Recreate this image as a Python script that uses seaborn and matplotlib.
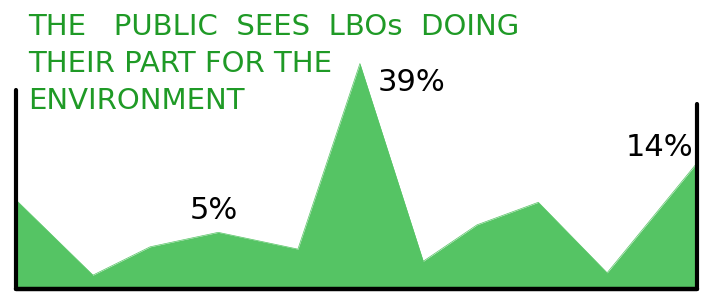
import matplotlib

matplotlib.use("Agg")
import matplotlib.pyplot as plt
import numpy as np
import pandas as pd
import seaborn as sns

# survey points (share of the public, %)
t_points = [0.0, 1.13, 1.97, 2.97, 4.14, 5.05, 5.98, 6.77, 7.67, 8.68, 10.0]
share_pct = [15.4, 2.4, 7.3, 9.8, 6.9, 39.0, 4.8, 11.1, 15.0, 2.8, 21.8]

# hand-written labels and which point they sit by
label_text = ["5%", "39%", "14%"]
label_idx = [3, 5, 10]

title_lines = ["THE   PUBLIC  SEES  LBOs  DOING", "THEIR PART FOR THE", "ENVIRONMENT"]

FILL = "#55c464"
INK = "#1f9a26"

df = pd.DataFrame({"t": t_points, "share": share_pct})

sns.set_theme(style="white")
plt.rcParams["font.family"] = ["DejaVu Sans"]

fig = plt.figure(figsize=(7.07, 2.93), dpi=100)
ax = fig.add_axes([16 / 707, 4 / 293, 681 / 707, 285 / 293])

sns.lineplot(data=df, x="t", y="share", color=FILL, lw=0.5, ax=ax)
ax.fill_between(df["t"], 0, df["share"], color=FILL, lw=0)

ax.set_xlim(df["t"].min(), df["t"].max())
ax.set_ylim(0, 49.3)
ax.set_xticks([])
ax.set_yticks([])
ax.set_xlabel("")
ax.set_ylabel("")
for side in ["top", "left", "right", "bottom"]:
    ax.spines[side].set_visible(False)

# hand-drawn frame: baseline plus two uneven uprights
ax.plot([0, 1], [0, 0], transform=ax.transAxes, color="black", lw=3.2,
        solid_capstyle="round", clip_on=False)
ax.plot([0, 0], [0, 0.70], transform=ax.transAxes, color="black", lw=3,
        solid_capstyle="round", clip_on=False)
ax.plot([1, 1], [0, 0.65], transform=ax.transAxes, color="black", lw=3,
        solid_capstyle="round", clip_on=False)

# offsets in points from the data point to the label centre
offsets = [(-3, 16), (37, -14), (-27, 11.5)]
for txt, i, (dx, dy) in zip(label_text, label_idx, offsets):
    ax.annotate(txt, (df["t"][i], df["share"][i]), xytext=(dx, dy),
                textcoords="offset points", ha="center", va="center",
                fontsize=22, color="black")

for k, line in enumerate(title_lines):
    fig.text(28 / 707, 1 - (13 + 37 * k) / 293, line, ha="left", va="top",
             fontsize=21, color=INK)

fig.savefig("out.png", dpi=100)
